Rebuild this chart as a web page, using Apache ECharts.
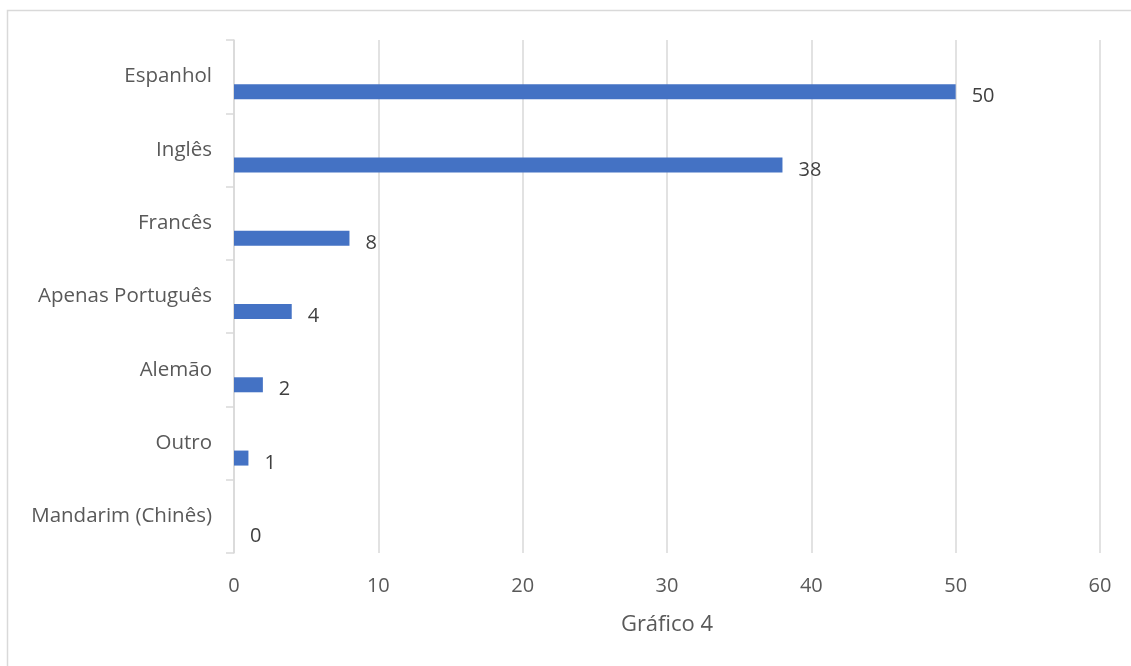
<!DOCTYPE html>
<html>
<head>
<meta charset="utf-8">
<script src="https://cdn.jsdelivr.net/npm/echarts@6/dist/echarts.min.js"></script>
<style>
html,body{margin:0;padding:0;background:#fff;}
#c{width:1131px;height:666px;}
</style>
</head>
<body>
<div id="c"></div>
<script>
const categories = ["Espanhol", "Inglês", "Francês", "Apenas Português", "Alemão", "Outro", "Mandarim (Chinês)"];
const values = [50, 38, 8, 4, 2, 1, 0];
const placeholder = [];
const axisTitle = "Gráfico 4";

const chart = echarts.init(document.getElementById('c'), null, {renderer: 'canvas'});
const FONT = '"Open Sans", sans-serif';
chart.setOption({
  animation: false,
  backgroundColor: '#ffffff',
  graphic: [{
    type: 'rect', shape: {x: 7.5, y: 10.5, width: 1130, height: 670},
    style: {fill: 'none', stroke: '#d9d9d9', lineWidth: 1.5}, silent: true
  }],
  grid: {left: 234, right: 31, top: 40, bottom: 113, containLabel: false},
  xAxis: {
    type: 'value', min: 0, max: 60, interval: 10,
    name: axisTitle, nameLocation: 'middle', nameGap: 61,
    nameTextStyle: {fontFamily: FONT, fontSize: 22, color: '#595959'},
    axisLine: {show: false}, axisTick: {show: false},
    axisLabel: {fontFamily: FONT, fontSize: 20, color: '#595959', margin: 23},
    splitLine: {lineStyle: {color: '#d9d9d9', width: 1.5}}
  },
  yAxis: {
    type: 'category', data: categories, inverse: true,
    axisLine: {show: true, lineStyle: {color: '#d9d9d9', width: 1.5}},
    axisTick: {show: true, length: 8, lineStyle: {color: '#d9d9d9', width: 1.5}},
    axisLabel: {fontFamily: FONT, fontSize: 20.5, color: '#595959', margin: 22, padding: [7, 0, 0, 0]}
  },
  series: [
    {type: 'bar', data: placeholder, barWidth: 15, barGap: '100%', silent: true},
    {type: 'bar', data: values, barWidth: 15, barGap: '100%',
     itemStyle: {color: '#4472c4'},
     label: {show: true, position: 'right', distance: 16, offset: [0, 5],
             fontFamily: FONT, fontSize: 20, color: '#404040'}}
  ]
});
</script>
</body>
</html>
